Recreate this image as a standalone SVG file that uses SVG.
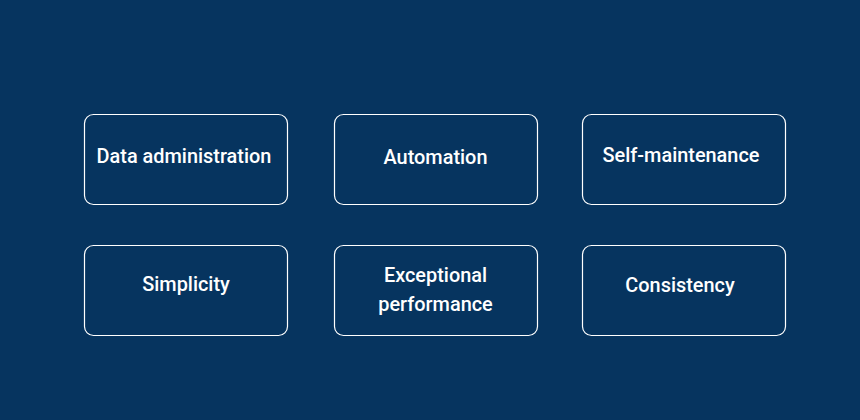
<svg xmlns="http://www.w3.org/2000/svg" width="860" height="420" viewBox="0 0 860 420">
<style>
.box{fill:none;stroke:#ffffff;stroke-width:1.2}
.lbl{font-family:Roboto,"Liberation Sans",sans-serif;font-weight:500;font-size:19.9px;fill:#ffffff;text-anchor:middle}
</style>
<rect width="860" height="420" fill="#06345f"/>
<g id="connectors"/>
<g id="n1"><rect class="box" x="84.5" y="114.5" width="203" height="90" rx="9"/><text class="lbl" x="184" y="163">Data administration</text></g>
<g id="n2"><rect class="box" x="334.5" y="114.5" width="203" height="90" rx="9"/><text class="lbl" x="435.5" y="163.5">Automation</text></g>
<g id="n3"><rect class="box" x="582.5" y="114.5" width="203" height="90" rx="9"/><text class="lbl" x="681" y="162">Self-maintenance</text></g>
<g id="n4"><rect class="box" x="84.5" y="245.5" width="203" height="90" rx="9"/><text class="lbl" x="186" y="291">Simplicity</text></g>
<g id="n5"><rect class="box" x="334.5" y="245.5" width="203" height="90" rx="9"/><text class="lbl" x="435.5" y="282">Exceptional</text><text class="lbl" x="435.5" y="311">performance</text></g>
<g id="n6"><rect class="box" x="582.5" y="245.5" width="203" height="90" rx="9"/><text class="lbl" x="680" y="291.5">Consistency</text></g>
</svg>
